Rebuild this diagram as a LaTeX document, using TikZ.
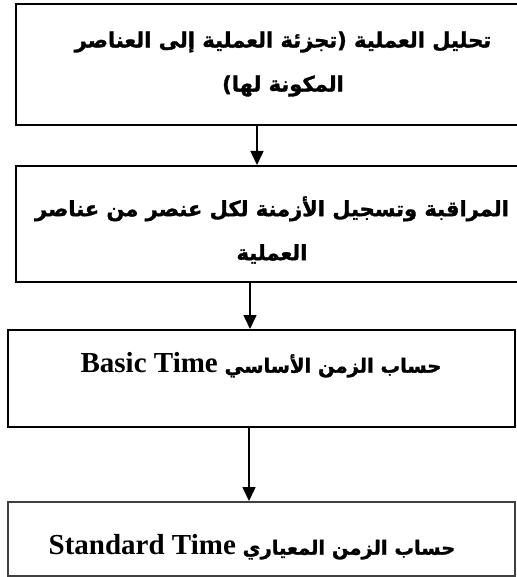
\documentclass[tikz,border=0pt]{standalone}
\usepackage{fontspec}
\setmainfont{Liberation Serif}
\newfontfamily\arabicfont[Script=Arabic, BoldFeatures={FakeBold=1.5}]{DejaVu Sans}
\TeXXeTstate=1
\usetikzlibrary{arrows.meta, positioning}
\newcommand{\latintext}[1]{\beginL{\normalfont\fontsize{29}{30}\selectfont\bfseries #1}\endL}

\begin{document}
\begin{tikzpicture}[
    x=1pt, y=-1pt,
    >={Triangle[length=14pt, width=13pt]},
    stepbox/.style={rectangle, draw=black, line width=1.6pt, inner sep=0pt, anchor=north west},
    steptext/.style={inner sep=0pt, align=center, font=\arabicfont\bfseries\fontsize{21}{44}\selectfont},
    shorttext/.style={steptext, font=\arabicfont\bfseries\fontsize{19.5}{30}\selectfont}
  ]
    \useasboundingbox (0,0) rectangle (516,577);
    % boxes
    \node[stepbox, minimum width=515pt, minimum height=121pt] (analyse) at (15,3) {};
    \node[stepbox, minimum width=515pt, minimum height=116pt] (observe) at (15,165) {};
    \node[stepbox, minimum width=507pt, minimum height=97pt] (basic) at (7,329) {};
    \node[stepbox, draw=black!75, minimum width=507pt, minimum height=74pt] (standard) at (7,501) {};
    % texts
    \node[steptext] (analyseT) at (283,64) {\beginR تحليل العملية (تجزئة العملية إلى العناصر\endR\\\beginR المكونة لها)\endR};
    \node[steptext] (observeT) at (272,230) {\beginR المراقبة وتسجيل الأزمنة لكل عنصر من عناصر\endR\\\beginR العملية\endR};
    \node[shorttext] (basicT) at (261,365) {\beginR حساب الزمن الأساسي \latintext{Basic Time}\endR};
    \node[shorttext] (standardT) at (252,547) {\beginR حساب الزمن المعياري \latintext{Standard Time}\endR};
    % arrows
    \draw[->, line width=1.6pt] (analyse.south -| 257,0) -- (observe.north -| 257,0);
    \draw[->, line width=1.6pt] (observe.south -| 250,0) -- (basic.north -| 250,0);
    \draw[->, line width=1.6pt] (basic.south -| 249,0) -- (standard.north -| 249,0);
\end{tikzpicture}
\end{document}
